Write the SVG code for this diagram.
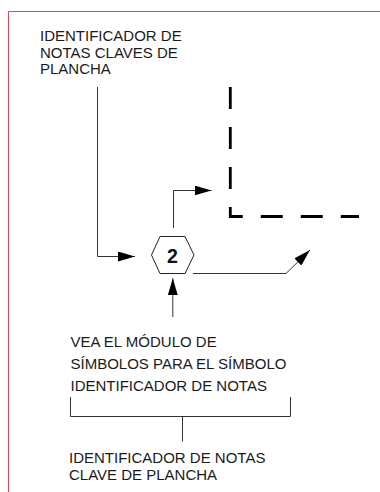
<svg xmlns="http://www.w3.org/2000/svg" width="380" height="492" viewBox="0 0 380 492">
  <style>
    .lbl { font-family: "Liberation Sans", Arial, sans-serif; font-size: 15px; fill: #1a1a1a; }
    .conn { fill: none; stroke: #333; stroke-width: 1; }
    .frame { fill: none; stroke: #e8454b; stroke-width: 1; }
  </style>
  <defs>
    <marker id="arrow" viewBox="0 0 17 10" refX="17" refY="5" markerWidth="17" markerHeight="10" markerUnits="userSpaceOnUse" orient="auto">
      <path d="M0,0 L17,5 L0,10 Z" fill="#000"/>
    </marker>
  </defs>
  <rect width="380" height="492" fill="#fff"/>
  <path class="frame" d="M8.5,492 V11.5 H380"/>

  <g id="label-top">
    <text class="lbl" x="40" y="41">IDENTIFICADOR DE</text>
    <text class="lbl" x="40" y="57.5">NOTAS CLAVES DE</text>
    <text class="lbl" x="40" y="74">PLANCHA</text>
  </g>

  <g id="dashed-corner">
    <path d="M230.3,87 V216.5 H359" fill="none" stroke="#000" stroke-width="2.8" stroke-dasharray="22 18" stroke-linejoin="miter"/>
  </g>

  <g id="hex-node">
    <polygon points="151.5,255 160,236.5 185,236.5 194,255 185,273.5 160,273.5" fill="#fff" stroke="#222" stroke-width="1"/>
    <text x="172.5" y="263.3" text-anchor="middle" font-family="Liberation Sans, Arial, sans-serif" font-weight="bold" font-size="19.5" fill="#111">2</text>
  </g>

  <g id="label-symbol">
    <text class="lbl" x="70.5" y="346.7">VEA EL MÓDULO DE</text>
    <text class="lbl" x="70.5" y="369.2">SÍMBOLOS PARA EL SÍMBOLO</text>
    <text class="lbl" x="70.5" y="391.3">IDENTIFICADOR DE NOTAS</text>
  </g>

  <g id="bracket">
    <path class="conn" d="M70.5,397 V416.5 H290.5 V397"/>
    <path class="conn" d="M182.5,416.5 V441.5"/>
  </g>

  <g id="label-bottom">
    <text class="lbl" x="69" y="462.7">IDENTIFICADOR DE NOTAS</text>
    <text class="lbl" x="69" y="480">CLAVE DE PLANCHA</text>
  </g>

  <g id="connectors">
    <path class="conn" d="M97.5,87 V256.5 H135" marker-end="url(#arrow)"/>
    <path class="conn" d="M173.5,228 V190.5 H211.5" marker-end="url(#arrow)"/>
    <path class="conn" d="M193,273.5 H286 L310,250" marker-end="url(#arrow)"/>
    <path class="conn" d="M172.8,317 V278.3" marker-end="url(#arrow)"/>
  </g>
</svg>
